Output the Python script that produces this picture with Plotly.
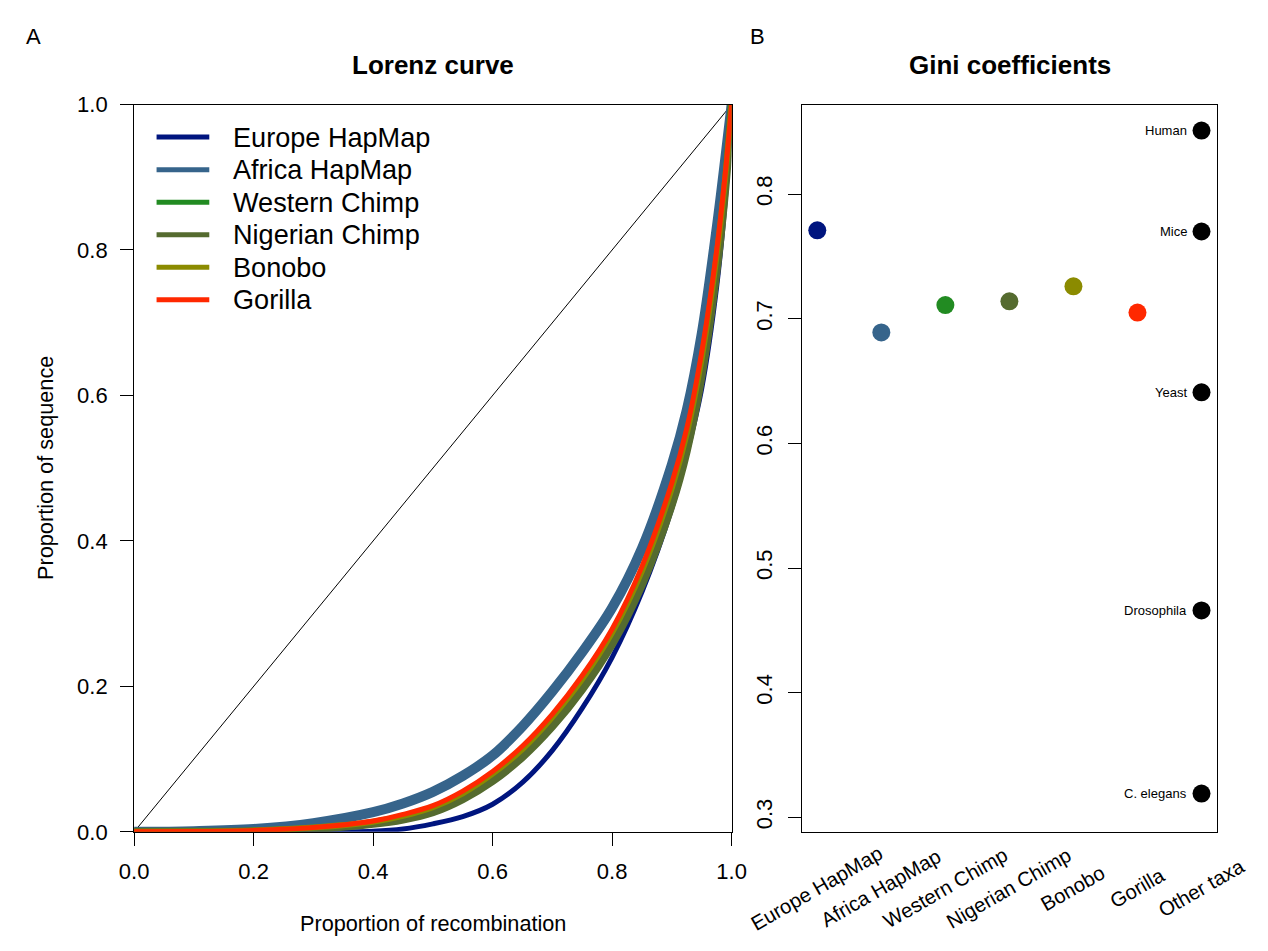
import plotly.graph_objects as go

W, H = 1268, 951
FONT = "Liberation Sans, Arial, sans-serif"

# ---------------- data ----------------
series_names = ["Europe HapMap", "Africa HapMap", "Western Chimp",
                "Nigerian Chimp", "Bonobo", "Gorilla"]
series_colors = ["#00157F", "#36648B", "#228B22", "#556B2F", "#8B8B00", "#FF2800"]
series_widths = [5, 10, 5, 8, 6, 5]

lorenz_x = [0.0, 0.1, 0.2, 0.3, 0.4, 0.45, 0.5, 0.55, 0.6, 0.65, 0.7, 0.75, 0.8,
            0.85, 0.9, 0.925, 0.95, 0.975, 0.99, 1.0]
europe_y = [0.0, 0.0, 0.0, 0.0, 0.001, 0.004, 0.011, 0.021, 0.038, 0.068, 0.112, 0.17, 0.24,
            0.33, 0.445, 0.52, 0.61, 0.75, 0.875, 1.0]
africa_y = [0.0, 0.001, 0.004, 0.012, 0.027, 0.039, 0.055, 0.077, 0.105, 0.145, 0.193, 0.247, 0.308,
            0.39, 0.505, 0.58, 0.685, 0.83, 0.93, 1.0]
western_y = [0.0, 0.0, 0.0015, 0.005, 0.013, 0.021, 0.032, 0.051, 0.077, 0.111, 0.154, 0.206, 0.269,
             0.353, 0.466, 0.54, 0.645, 0.787, 0.9, 1.0]
nigerian_y = [0.0, 0.0, 0.001, 0.004, 0.011, 0.017, 0.027, 0.045, 0.070, 0.103, 0.145, 0.196, 0.258,
              0.34, 0.45, 0.524, 0.628, 0.772, 0.89, 1.0]
bonobo_y = [0.0, 0.0005, 0.002, 0.006, 0.014, 0.022, 0.034, 0.053, 0.080, 0.114, 0.158, 0.21, 0.274,
            0.359, 0.473, 0.548, 0.652, 0.793, 0.905, 1.0]
gorilla_y = [0.0, 0.0005, 0.002, 0.006, 0.015, 0.024, 0.036, 0.056, 0.083, 0.118, 0.162, 0.215, 0.279,
             0.365, 0.48, 0.555, 0.66, 0.8, 0.91, 1.0]
lorenz_series = [europe_y, africa_y, western_y, nigerian_y, bonobo_y, gorilla_y]

gini_categories = ["Europe HapMap", "Africa HapMap", "Western Chimp",
                   "Nigerian Chimp", "Bonobo", "Gorilla", "Other taxa"]
gini_values = [0.771, 0.689, 0.711, 0.714, 0.726, 0.705]

other_taxa = ["Human", "Mice", "Yeast", "Drosophila", "C. elegans"]
other_gini = [0.851, 0.770, 0.641, 0.466, 0.319]

lorenz_ticks = [0.0, 0.2, 0.4, 0.6, 0.8, 1.0]
gini_ticks = [0.3, 0.4, 0.5, 0.6, 0.7, 0.8]


def px_x(p):
    return p / W


def px_y(p):
    return 1 - p / H


fig = go.Figure()

# line of equality
fig.add_trace(go.Scatter(x=[0, 1], y=[0, 1], mode="lines",
                         line=dict(color="black", width=1),
                         xaxis="x", yaxis="y", showlegend=False, hoverinfo="skip"))

for name, ys, col, lw in zip(series_names, lorenz_series, series_colors, series_widths):
    fig.add_trace(go.Scatter(x=lorenz_x, y=ys, mode="lines", name=name,
                             line=dict(color=col, width=lw, shape="spline", smoothing=1.0),
                             xaxis="x", yaxis="y", showlegend=False))

# Gini coefficients
fig.add_trace(go.Scatter(x=list(range(1, len(gini_values) + 1)), y=gini_values, mode="markers",
                         marker=dict(color=series_colors, size=18, line=dict(width=0)),
                         xaxis="x2", yaxis="y2", showlegend=False))
fig.add_trace(go.Scatter(x=[len(gini_categories)] * len(other_gini), y=other_gini, mode="markers",
                         marker=dict(color="black", size=18, line=dict(width=0)),
                         xaxis="x2", yaxis="y2", showlegend=False))

annotations = []
shapes = []


def txt(x, y, text, size, xref="paper", yref="paper", xanchor="center", yanchor="middle",
        angle=0, xshift=0):
    return dict(x=x, y=y, xref=xref, yref=yref, text=text, showarrow=False,
                xanchor=xanchor, yanchor=yanchor, textangle=angle, xshift=xshift,
                font=dict(size=size, color="black", family=FONT))


# other taxa labels
for name, v in zip(other_taxa, other_gini):
    annotations.append(txt(len(gini_categories), v, name, 13, xref="x2", yref="y2",
                           xanchor="right", xshift=-13))

# rotated category labels
for i, c in enumerate(gini_categories):
    annotations.append(txt(i + 1, px_y(900), c, 20.3, xref="x2", angle=-30))

# titles, panel letters, axis titles
annotations.append(txt(px_x(428), px_y(54), "<b>Lorenz curve</b>", 26))
annotations.append(txt(px_x(1019), px_y(54), "<b>Gini coefficients</b>", 26))
annotations.append(txt(px_x(19), px_y(25), "A", 22))
annotations.append(txt(px_x(760), px_y(25), "B", 22))
annotations.append(txt(px_x(31), px_y(468), "Proportion of sequence", 21.7, angle=-90))
annotations.append(txt(px_x(428), px_y(936), "Proportion of recombination", 21.7))

# legend in the upper-left corner of panel A
for i, (name, col) in enumerate(zip(series_names, series_colors)):
    yc = 128.5 + i * 33.4
    shapes.append(dict(type="line", xref="paper", yref="paper",
                       x0=px_x(145), x1=px_x(199), y0=px_y(yc), y1=px_y(yc),
                       line=dict(color=col, width=5)))
    annotations.append(txt(px_x(221), px_y(yc), name, 27.1, xanchor="left"))

axis_common = dict(showgrid=False, zeroline=False, showline=True, mirror=True,
                   linecolor="black", linewidth=1, ticks="outside", ticklen=13,
                   tickcolor="black", tickwidth=1,
                   tickfont=dict(size=22, color="black", family=FONT))

fig.update_layout(
    width=W, height=H, autosize=False,
    margin=dict(l=0, r=0, t=0, b=0, pad=0),
    paper_bgcolor="white", plot_bgcolor="white",
    font=dict(family=FONT, color="black"),
    showlegend=False,
    xaxis=dict(domain=[px_x(122), px_x(734)], range=[0, 1], tickvals=lorenz_ticks,
               tickformat=".1f", anchor="y", ticklabelstandoff=7, **axis_common),
    yaxis=dict(domain=[px_y(842), px_y(95)], range=[0, 1], tickvals=lorenz_ticks,
               tickformat=".1f", anchor="x", ticklabelstandoff=8, **axis_common),
    xaxis2=dict(domain=[px_x(806), px_x(1231)], range=[0.76, 7.24], anchor="y2",
                showticklabels=False, showgrid=False, zeroline=False, showline=True,
                mirror=True, linecolor="black", linewidth=1, ticks=""),
    yaxis2=dict(domain=[px_y(842), px_y(95)], range=[0.2883, 0.8719], tickvals=gini_ticks,
                tickformat=".1f", tickangle=-90, anchor="x2", ticklabelstandoff=7,
                **axis_common),
    annotations=annotations,
    shapes=shapes,
)

fig.write_html("out.html")
